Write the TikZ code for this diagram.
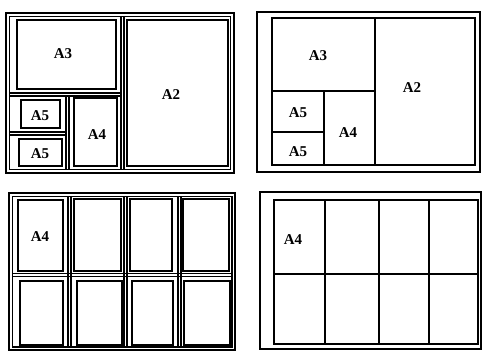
\documentclass[tikz,border=0pt]{standalone}
\usepackage{fontspec}
\setmainfont{Liberation Serif}
\begin{document}
\begin{tikzpicture}[x=1pt,y=-1pt,
  frame/.style={line width=2pt},
  divline/.style={line width=1.1pt},
  sheet/.style={line width=1.8pt},
  grid/.style={line width=1.7pt},
  lab/.style={font=\fontsize{15}{17}\selectfont\bfseries, inner sep=0pt}]
\useasboundingbox (0,0) rectangle (482,351);
% ---------------- top-left panel ----------------
\draw[frame] (6,13) rectangle (234,173);
\draw[divline] (9.5,16.5) rectangle (230.5,169.5);
\draw[divline] (121,16.5) -- (121,169.5);
\draw[divline] (124,16.5) -- (124,169.5);
\draw[divline] (9.5,93) -- (121,93);
\draw[divline] (9.5,96) -- (121,96);
\draw[divline] (66,96) -- (66,169.5);
\draw[divline] (69,96) -- (69,169.5);
\draw[divline] (9.5,132) -- (66,132);
\draw[divline] (9.5,135) -- (66,135);
\draw[sheet] (17,20) rectangle (116,89);
\draw[sheet] (21,100) rectangle (60,128);
\draw[sheet] (19,139) rectangle (62,166);
\draw[sheet] (74,98) rectangle (117,166);
\draw[sheet] (127,20) rectangle (228,166);
\node[lab] (tlA3) at (63,54) {A3};
\node[lab] (tlA2) at (171,95) {A2};
\node[lab] (tlA5a) at (40,116) {A5};
\node[lab] (tlA5b) at (40,154) {A5};
\node[lab] (tlA4) at (97,135) {A4};
% ---------------- top-right panel ----------------
\draw[frame] (257,12) rectangle (480,172);
\draw[grid] (272,18) rectangle (475,165);
\draw[grid] (375,18) -- (375,165);
\draw[grid] (272,91) -- (375,91);
\draw[grid] (324,91) -- (324,165);
\draw[grid] (272,132) -- (324,132);
\node[lab] (trA3) at (318,56) {A3};
\node[lab] (trA2) at (412,88) {A2};
\node[lab] (trA5a) at (298,113) {A5};
\node[lab] (trA5b) at (298,152) {A5};
\node[lab] (trA4) at (348,133) {A4};
% ---------------- bottom-left panel ----------------
\draw[frame] (9,193) rectangle (235,350);
\draw[divline] (12.5,196.5) rectangle (232,347);
\draw[divline] (12.5,273.5) -- (232,273.5);
\draw[divline] (12.5,276.5) -- (232,276.5);
\foreach \xa in {68,124,178}{
  \draw[divline] (\xa,196.5) -- (\xa,347);
  \draw[divline] (\xa+3,196.5) -- (\xa+3,347);
}
\draw[sheet] (18,200) rectangle (63,271);
\draw[sheet] (74,199) rectangle (121,271);
\draw[sheet] (130,199) rectangle (172,271);
\draw[sheet] (183,199) rectangle (229,271);
\draw[sheet] (20,281) rectangle (63,345);
\draw[sheet] (77,281) rectangle (122,345);
\draw[sheet] (132,281) rectangle (173,345);
\draw[sheet] (184,281) rectangle (230,345);
\node[lab] (blA4) at (40,237) {A4};
% ---------------- bottom-right panel ----------------
\draw[frame] (260,192) rectangle (481,349);
\draw[grid] (274,200) rectangle (478,344);
\draw[grid] (274,274) -- (478,274);
\foreach \xa in {325,379,429}{
  \draw[grid] (\xa,200) -- (\xa,344);
}
\node[lab] (brA4) at (293,240) {A4};
\end{tikzpicture}
\end{document}
